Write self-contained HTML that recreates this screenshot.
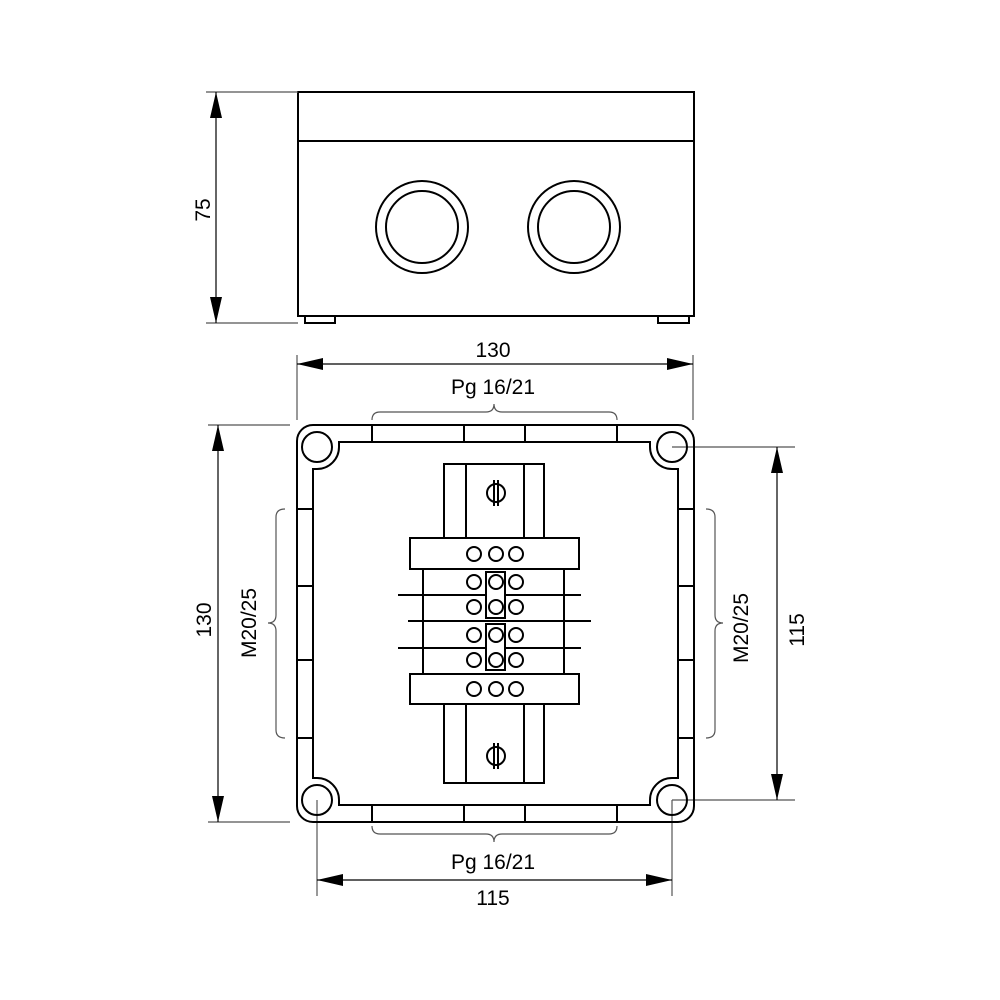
<!DOCTYPE html>
<html><head><style>html,body{margin:0;padding:0;background:#fff}svg{display:block}</style></head>
<body>
<svg width="1000" height="1000" viewBox="0 0 1000 1000" xmlns="http://www.w3.org/2000/svg" font-family="Liberation Sans, Arial, sans-serif">
<defs>
<marker id="a" viewBox="0 0 26 12" refX="26" refY="6" markerWidth="26" markerHeight="12" markerUnits="userSpaceOnUse" orient="auto-start-reverse"><path d="M0,0 L26,6 L0,12 Z" fill="#000"/></marker>
</defs>
<g fill="none" stroke="#000" stroke-width="2">
<rect x="298" y="92" width="396" height="224"/>
<line x1="298" y1="141" x2="694" y2="141"/>
<circle cx="422" cy="227" r="46"/><circle cx="422" cy="227" r="36"/>
<circle cx="574" cy="227" r="46"/><circle cx="574" cy="227" r="36"/>
<rect x="305" y="316" width="30" height="7"/>
<rect x="658" y="316" width="31" height="7"/>
</g>
<g stroke="#555" stroke-width="1.2" fill="none">
<line x1="206" y1="92" x2="298" y2="92"/><line x1="206" y1="323" x2="298" y2="323"/>
<line x1="216" y1="92" x2="216" y2="323" stroke="#000" marker-start="url(#a)" marker-end="url(#a)"/>
<line x1="297" y1="355" x2="297" y2="420"/><line x1="693" y1="355" x2="693" y2="420"/>
<line x1="297" y1="364" x2="693" y2="364" stroke="#000" marker-start="url(#a)" marker-end="url(#a)"/>
<line x1="208" y1="425" x2="290" y2="425"/><line x1="208" y1="822" x2="290" y2="822"/>
<line x1="218" y1="425" x2="218" y2="822" stroke="#000" marker-start="url(#a)" marker-end="url(#a)"/>
<line x1="672" y1="447" x2="795" y2="447"/><line x1="672" y1="800" x2="795" y2="800"/>
<line x1="777" y1="447" x2="777" y2="800" stroke="#000" marker-start="url(#a)" marker-end="url(#a)"/>
<line x1="317" y1="800" x2="317" y2="896"/><line x1="672" y1="800" x2="672" y2="896"/>
<line x1="317" y1="880" x2="672" y2="880" stroke="#000" marker-start="url(#a)" marker-end="url(#a)"/>
<path d="M372,420 Q372,412 380,412 L486,412 Q494,412 494,404 Q494,412 502,412 L609,412 Q617,412 617,420"/>
<path d="M372,826 Q372,834 380,834 L486,834 Q494,834 494,842 Q494,834 502,834 L609,834 Q617,834 617,826"/>
<path d="M285,509 Q276,509 276,517 L276,615 Q276,623 268,623 Q276,623 276,631 L276,730 Q276,738 285,738"/>
<path d="M706,509 Q715,509 715,517 L715,615 Q715,623 723,623 Q715,623 715,631 L715,730 Q715,738 706,738"/>
</g>
<g fill="#000" font-size="21" text-anchor="middle">
<text x="493" y="357">130</text>
<text x="493" y="394">Pg 16/21</text>
<text x="493" y="869">Pg 16/21</text>
<text x="493" y="905">115</text>
<text transform="translate(210,210) rotate(-90)">75</text>
<text transform="translate(211,620) rotate(-90)">130</text>
<text transform="translate(256,623) rotate(-90)">M20/25</text>
<text transform="translate(748,628) rotate(-90)">M20/25</text>
<text transform="translate(804,630) rotate(-90)">115</text>
</g>
<g fill="none" stroke="#000" stroke-width="2">
<rect x="297" y="425" width="397" height="397" rx="16"/>
<path d="M339,442 H650 V447 A22,22 0 0 0 672,469 H678 V778 H672 A22,22 0 0 0 650,800 V805 H339 V800 A22,22 0 0 0 317,778 H313 V469 H317 A22,22 0 0 0 339,447 Z"/>
<circle cx="317" cy="447" r="15"/><circle cx="672" cy="447" r="15"/>
<circle cx="317" cy="800" r="15"/><circle cx="672" cy="800" r="15"/>
<path d="M372,425V442M464,425V442M525,425V442M617,425V442"/>
<path d="M372,805V822M464,805V822M525,805V822M617,805V822"/>
<path d="M297,509H313M297,586H313M297,660H313M297,738H313"/>
<path d="M678,509H694M678,586H694M678,660H694M678,738H694"/>
<rect x="444" y="464" width="100" height="319"/>
<path d="M466,464V538M524,464V538M466,704V783M524,704V783"/>
<circle cx="496" cy="493" r="9"/><path d="M494,480V506M498,480V506"/>
<circle cx="496" cy="756" r="9"/><path d="M494,743V769M498,743V769"/>
<rect x="423" y="569" width="141" height="105" fill="#fff"/>
<rect x="410" y="538" width="169" height="31" fill="#fff"/>
<rect x="410" y="674" width="169" height="30" fill="#fff"/>
<path d="M398,595H581M408,621H591M398,648H581"/>
<rect x="486" y="572" width="19" height="46" fill="#fff"/>
<rect x="486" y="624" width="19" height="46" fill="#fff"/>
</g>
<g fill="#fff" stroke="#000" stroke-width="2">
<circle cx="474" cy="554" r="7"/><circle cx="496" cy="554" r="7"/><circle cx="516" cy="554" r="7"/>
<circle cx="474" cy="582" r="7"/><circle cx="496" cy="582" r="7"/><circle cx="516" cy="582" r="7"/>
<circle cx="474" cy="607" r="7"/><circle cx="496" cy="607" r="7"/><circle cx="516" cy="607" r="7"/>
<circle cx="474" cy="635" r="7"/><circle cx="496" cy="635" r="7"/><circle cx="516" cy="635" r="7"/>
<circle cx="474" cy="660" r="7"/><circle cx="496" cy="660" r="7"/><circle cx="516" cy="660" r="7"/>
<circle cx="474" cy="689" r="7"/><circle cx="496" cy="689" r="7"/><circle cx="516" cy="689" r="7"/>
</g>
</svg>
</body></html>
